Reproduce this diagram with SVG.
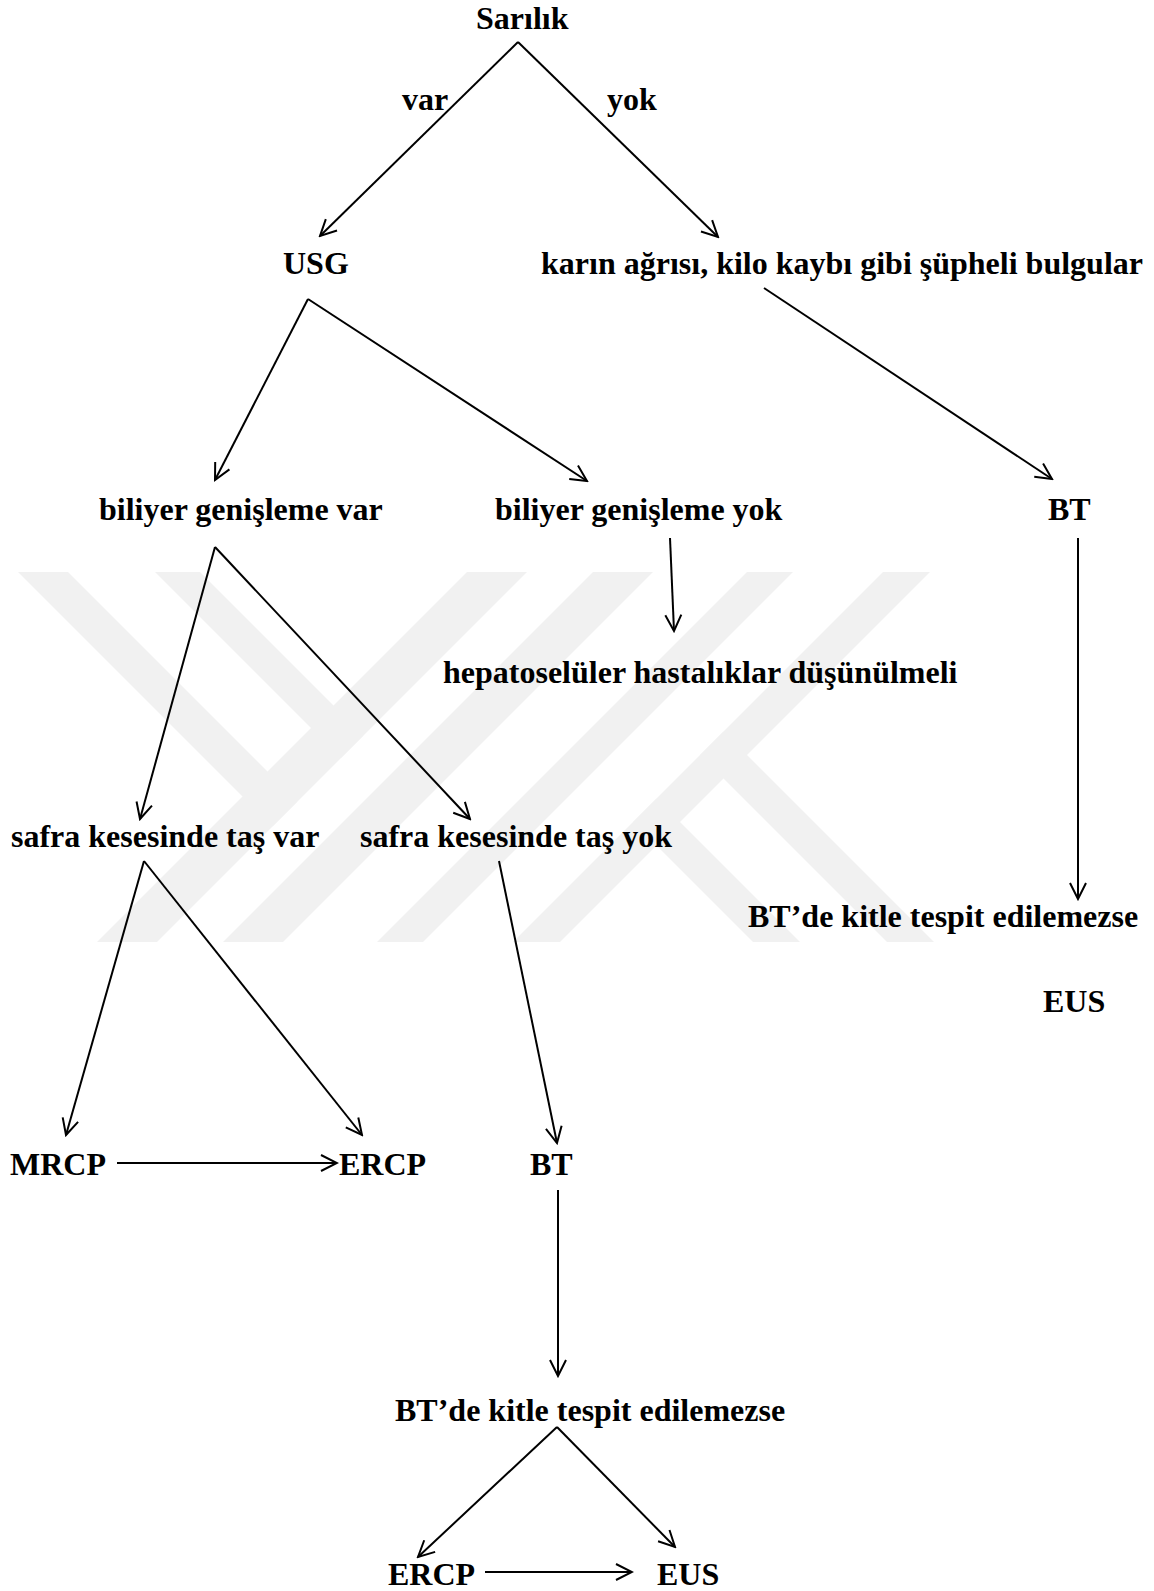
<svg xmlns="http://www.w3.org/2000/svg" width="1154" height="1591" viewBox="0 0 1154 1591">
<style>
  text { font-family: "Liberation Serif", "Times New Roman", serif; font-weight: bold; font-size: 32px; fill: #000; }
  .edge { stroke: #000; stroke-width: 2; fill: none; marker-end: url(#arr); }
  .wm { fill: #f1f1f1; }
</style>
<defs>
  <marker id="arr" viewBox="0 0 20 20" refX="18" refY="10" markerWidth="20" markerHeight="20" markerUnits="userSpaceOnUse" orient="auto">
    <path d="M2,2 L18,10 L2,18" fill="none" stroke="#000" stroke-width="2"/>
  </marker>
  <clipPath id="wmclip"><rect x="0" y="572" width="1154" height="370"/></clipPath>
</defs>
<rect width="1154" height="1591" fill="#fff"/>
<g id="watermark" clip-path="url(#wmclip)">
  <polygon class="wm" points="18,572 68,572 297.5,801.5 272.5,826.5"/>
  <polygon class="wm" points="155,572 200,572 363.5,735.5 341,758"/>
  <polygon class="wm" points="467,572 527,572 157,942 97,942"/>
  <polygon class="wm" points="593,572 653,572 283,942 223,942"/>
  <polygon class="wm" points="747,572 793,572 423,942 377,942"/>
  <polygon class="wm" points="883,572 930,572 560,942 513,942"/>
  <polygon class="wm" points="700,755 723.5,731.5 934,942 887,942"/>
  <polygon class="wm" points="633,822 656.5,798.5 800,942 753,942"/>
</g>
<g id="connectors">
  <line class="edge" x1="518" y1="42" x2="320" y2="236"/>
  <line class="edge" x1="518" y1="42" x2="718" y2="237"/>
  <line class="edge" x1="308" y1="299" x2="215" y2="480"/>
  <line class="edge" x1="308" y1="299" x2="587" y2="481"/>
  <line class="edge" x1="764" y1="288" x2="1052" y2="479"/>
  <line class="edge" x1="670" y1="538" x2="674" y2="631"/>
  <line class="edge" x1="1078" y1="538" x2="1078" y2="899"/>
  <line class="edge" x1="215" y1="547" x2="140" y2="819"/>
  <line class="edge" x1="215" y1="547" x2="470" y2="819"/>
  <line class="edge" x1="144" y1="861" x2="66" y2="1135"/>
  <line class="edge" x1="144" y1="861" x2="362" y2="1135"/>
  <line class="edge" x1="499" y1="861" x2="557" y2="1143"/>
  <line class="edge" x1="117" y1="1163" x2="337" y2="1163"/>
  <line class="edge" x1="558" y1="1190" x2="558" y2="1376"/>
  <line class="edge" x1="557" y1="1427" x2="418" y2="1557"/>
  <line class="edge" x1="557" y1="1427" x2="675" y2="1547"/>
  <line class="edge" x1="485" y1="1572" x2="632" y2="1572"/>
</g>
<g id="n-sarilik"><text x="476" y="29">Sarılık</text></g>
<g id="l-var"><text x="402" y="110">var</text></g>
<g id="l-yok"><text x="607" y="110">yok</text></g>
<g id="n-usg"><text x="283" y="274">USG</text></g>
<g id="n-karin"><text x="541" y="274">karın ağrısı, kilo kaybı gibi şüpheli bulgular</text></g>
<g id="n-biliyer-var"><text x="99" y="520">biliyer genişleme var</text></g>
<g id="n-biliyer-yok"><text x="495" y="520">biliyer genişleme yok</text></g>
<g id="n-bt1"><text x="1048" y="520">BT</text></g>
<g id="n-hepato"><text x="443" y="683">hepatoselüler hastalıklar düşünülmeli</text></g>
<g id="n-tas-var"><text x="11" y="847">safra kesesinde taş var</text></g>
<g id="n-tas-yok"><text x="360" y="847">safra kesesinde taş yok</text></g>
<g id="n-btde1"><text x="748" y="927">BT’de kitle tespit edilemezse</text></g>
<g id="n-eus1"><text x="1043" y="1012">EUS</text></g>
<g id="n-mrcp"><text x="10" y="1175">MRCP</text></g>
<g id="n-ercp1"><text x="339" y="1175">ERCP</text></g>
<g id="n-bt2"><text x="530" y="1175">BT</text></g>
<g id="n-btde2"><text x="395" y="1421">BT’de kitle tespit edilemezse</text></g>
<g id="n-ercp2"><text x="388" y="1585">ERCP</text></g>
<g id="n-eus2"><text x="657" y="1585">EUS</text></g>
</svg>
